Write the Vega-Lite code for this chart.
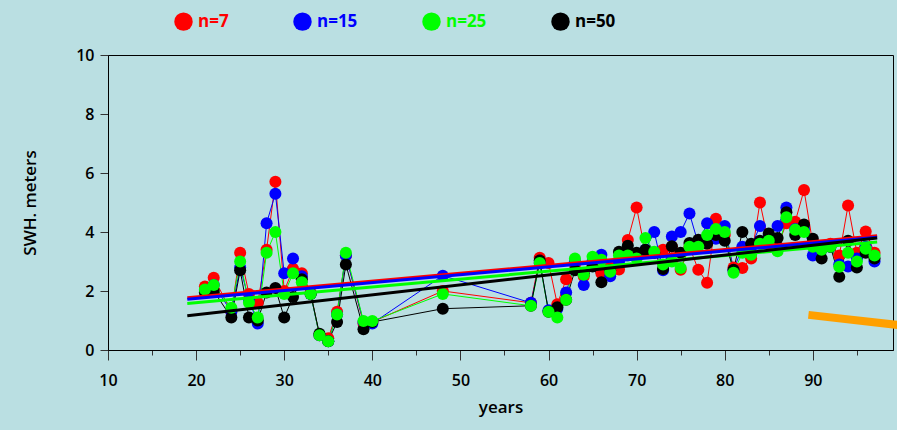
{
  "$schema": "https://vega.github.io/schema/vega-lite/v6.json",
  "width": 785,
  "height": 295,
  "autosize": "none",
  "padding": {"left": 108, "top": 55, "right": 4, "bottom": 80},
  "background": "#badfe2",
  "config": {
    "view": {"stroke": "#000000", "strokeWidth": 1},
    "font": "Open Sans",
    "axis": {"grid": false, "domainColor": "#000000", "tickColor": "#333333", "labelColor": "#000000", "titleColor": "#000000", "labelFont": "Open Sans", "titleFont": "Open Sans", "labelFontSize": 16, "labelFontWeight": 600, "titleFontSize": 17, "titleFontWeight": 600, "labelFlush": false}
  },
  "datasets": {
    "obs": [
      {"year": 21, "n=7": 2.15, "n=15": 2.0, "n=25": 2.05, "n=50": 1.95},
      {"year": 22, "n=7": 2.45, "n=15": 2.2, "n=25": 2.2, "n=50": 2.0},
      {"year": 24, "n=7": 1.3, "n=15": 1.3, "n=25": 1.43, "n=50": 1.1},
      {"year": 25, "n=7": 3.3, "n=15": 2.8, "n=25": 3.0, "n=50": 2.7},
      {"year": 26, "n=7": 1.9, "n=15": 1.7, "n=25": 1.6, "n=50": 1.1},
      {"year": 27, "n=7": 1.6, "n=15": 0.9, "n=25": 1.1, "n=50": 1.0},
      {"year": 28, "n=7": 3.4, "n=15": 4.3, "n=25": 3.3, "n=50": 1.95},
      {"year": 29, "n=7": 5.7, "n=15": 5.3, "n=25": 4.0, "n=50": 2.1},
      {"year": 30, "n=7": 2.0, "n=15": 2.6, "n=25": 1.9, "n=50": 1.1},
      {"year": 31, "n=7": 2.75, "n=15": 3.1, "n=25": 2.6, "n=50": 1.8},
      {"year": 32, "n=7": 2.6, "n=15": 2.5, "n=25": 2.3, "n=50": 2.4},
      {"year": 33, "n=7": 1.95, "n=15": 1.9, "n=25": 1.9, "n=50": 1.9},
      {"year": 34, "n=7": 0.5, "n=15": 0.5, "n=25": 0.5, "n=50": 0.55},
      {"year": 35, "n=7": 0.4, "n=15": 0.3, "n=25": 0.3, "n=50": 0.3},
      {"year": 36, "n=7": 1.3, "n=15": 1.2, "n=25": 1.2, "n=50": 0.95},
      {"year": 37, "n=7": 3.2, "n=15": 3.2, "n=25": 3.3, "n=50": 2.9},
      {"year": 39, "n=7": 0.9, "n=15": 0.95, "n=25": 0.98, "n=50": 0.7},
      {"year": 40, "n=7": 0.95, "n=15": 0.9, "n=25": 0.98, "n=50": 0.95},
      {"year": 48, "n=7": 2.0, "n=15": 2.52, "n=25": 1.9, "n=50": 1.4},
      {"year": 58, "n=7": 1.6, "n=15": 1.6, "n=25": 1.5, "n=50": 1.5},
      {"year": 59, "n=7": 3.13, "n=15": 2.95, "n=25": 2.95, "n=50": 3.03},
      {"year": 60, "n=7": 2.95, "n=15": 1.35, "n=25": 1.3, "n=50": 1.3},
      {"year": 61, "n=7": 1.55, "n=15": 1.4, "n=25": 1.1, "n=50": 1.45},
      {"year": 62, "n=7": 2.4, "n=15": 1.95, "n=25": 1.7, "n=50": 1.7},
      {"year": 63, "n=7": 2.9, "n=15": 3.0, "n=25": 3.1, "n=50": 2.7},
      {"year": 64, "n=7": 2.5, "n=15": 2.2, "n=25": 2.55, "n=50": 2.6},
      {"year": 65, "n=7": 2.9, "n=15": 3.0, "n=25": 3.16, "n=50": 2.83},
      {"year": 66, "n=7": 2.6, "n=15": 3.23, "n=25": 3.06, "n=50": 2.3},
      {"year": 67, "n=7": 2.8, "n=15": 2.5, "n=25": 2.65, "n=50": 2.7},
      {"year": 68, "n=7": 2.73, "n=15": 3.0, "n=25": 3.2, "n=50": 3.33},
      {"year": 69, "n=7": 3.73, "n=15": 3.3, "n=25": 3.2, "n=50": 3.53},
      {"year": 70, "n=7": 4.83, "n=15": 3.2, "n=25": 3.1, "n=50": 3.3},
      {"year": 71, "n=7": 3.3, "n=15": 3.4, "n=25": 3.8, "n=50": 3.4},
      {"year": 72, "n=7": 3.3, "n=15": 4.0, "n=25": 3.33, "n=50": 3.3},
      {"year": 73, "n=7": 3.4, "n=15": 2.7, "n=25": 2.9, "n=50": 2.75},
      {"year": 74, "n=7": 3.5, "n=15": 3.85, "n=25": 3.0, "n=50": 3.52},
      {"year": 75, "n=7": 2.72, "n=15": 4.0, "n=25": 2.78, "n=50": 3.3},
      {"year": 76, "n=7": 3.5, "n=15": 4.63, "n=25": 3.5, "n=50": 3.63},
      {"year": 77, "n=7": 2.72, "n=15": 3.6, "n=25": 3.5, "n=50": 3.74},
      {"year": 78, "n=7": 2.28, "n=15": 4.3, "n=25": 3.9, "n=50": 3.6},
      {"year": 79, "n=7": 4.45, "n=15": 3.77, "n=25": 4.1, "n=50": 3.9},
      {"year": 80, "n=7": 3.9, "n=15": 4.2, "n=25": 4.0, "n=50": 3.7},
      {"year": 81, "n=7": 2.8, "n=15": 2.7, "n=25": 2.62, "n=50": 2.72},
      {"year": 82, "n=7": 2.78, "n=15": 3.5, "n=25": 3.3, "n=50": 4.0},
      {"year": 83, "n=7": 3.1, "n=15": 3.5, "n=25": 3.23, "n=50": 3.6},
      {"year": 84, "n=7": 5.0, "n=15": 4.2, "n=25": 3.6, "n=50": 3.7},
      {"year": 85, "n=7": 3.6, "n=15": 3.9, "n=25": 3.7, "n=50": 3.95},
      {"year": 86, "n=7": 3.5, "n=15": 4.2, "n=25": 3.35, "n=50": 3.8},
      {"year": 87, "n=7": 4.3, "n=15": 4.83, "n=25": 4.5, "n=50": 4.67},
      {"year": 88, "n=7": 4.35, "n=15": 4.1, "n=25": 4.08, "n=50": 3.9},
      {"year": 89, "n=7": 5.42, "n=15": 4.1, "n=25": 4.0, "n=50": 4.25},
      {"year": 90, "n=7": 3.6, "n=15": 3.2, "n=25": 3.5, "n=50": 3.77},
      {"year": 91, "n=7": 3.5, "n=15": 3.4, "n=25": 3.4, "n=50": 3.1},
      {"year": 92, "n=7": 3.6, "n=15": 3.5, "n=25": 3.5, "n=50": 3.5},
      {"year": 93, "n=7": 3.2, "n=15": 2.9, "n=25": 2.82, "n=50": 2.48},
      {"year": 94, "n=7": 4.9, "n=15": 2.83, "n=25": 3.3, "n=50": 3.7},
      {"year": 95, "n=7": 3.3, "n=15": 3.1, "n=25": 3.0, "n=50": 2.8},
      {"year": 96, "n=7": 4.02, "n=15": 3.5, "n=25": 3.43, "n=50": 3.3},
      {"year": 97, "n=7": 3.3, "n=15": 3.0, "n=25": 3.2, "n=50": 3.1}
    ],
    "trend": [
      {"series": "n=7", "year": 19, "swh": 1.77},
      {"series": "n=7", "year": 97.3, "swh": 3.87},
      {"series": "n=15", "year": 19, "swh": 1.72},
      {"series": "n=15", "year": 97.3, "swh": 3.82},
      {"series": "n=25", "year": 19, "swh": 1.58},
      {"series": "n=25", "year": 97.3, "swh": 3.66},
      {"series": "n=50", "year": 19, "swh": 1.16},
      {"series": "n=50", "year": 97.3, "swh": 3.8}
    ],
    "orange": [
      {"year": 89.5, "swh": 1.19},
      {"year": 99.6, "swh": 0.85}
    ]
  },
  "layer": [
    {
      "data": {"name": "obs"},
      "transform": [{"fold": ["n=7", "n=15", "n=25", "n=50"], "as": ["series", "swh"]}],
      "mark": {"type": "line", "strokeWidth": 1, "clip": true},
      "encoding": {
        "x": {"field": "year", "type": "quantitative", "scale": {"domain": [10, 99.1], "nice": false, "zero": false},
          "axis": {"orient": "bottom", "title": "years", "values": [10,15,20,25,30,35,40,45,50,55,60,65,70,75,80,85,90,95],
            "labelExpr": "datum.value % 10 === 0 ? datum.label : ''",
            "tickSize": {"condition": {"test": "datum.value % 10 === 0", "value": 10}, "value": 5},
            "labelPadding": 12, "titlePadding": 11}},
        "y": {"field": "swh", "type": "quantitative", "scale": {"domain": [0, 10], "nice": false},
          "axis": {"orient": "left", "title": "SWH. meters", "values": [0,1,2,3,4,5,6,7,8,9,10],
            "labelExpr": "datum.value % 2 === 0 ? datum.label : ''",
            "tickSize": {"condition": {"test": "datum.value % 2 === 0", "value": 8}, "value": 5},
            "labelPadding": 6, "titlePadding": 36}},
        "color": {"field": "series", "type": "nominal",
          "scale": {"domain": ["n=7", "n=15", "n=25", "n=50"], "range": ["#ff0000", "#0000ff", "#00ff00", "#000000"]},
          "legend": {"orient": "none", "legendX": 66, "legendY": -43, "direction": "horizontal", "title": null,
            "symbolType": "circle", "symbolSize": 340, "labelFontSize": 17, "labelFontWeight": "bold", "labelFont": "Open Sans",
            "columnPadding": 64, "labelOffset": 5,
            "encode": {"symbols": {"update": {"fill": {"signal": "scale('color', datum.value)"}, "stroke": {"value": "transparent"}, "strokeWidth": {"value": 0}, "opacity": {"value": 1}}},
                       "labels": {"update": {"fill": {"signal": "scale('color', datum.value)"}}}}}},
        "detail": {"field": "series"}
      }
    },
    {
      "data": {"name": "obs"},
      "mark": {"type": "point", "shape": "circle", "filled": true, "opacity": 1, "size": 145},
      "encoding": {
        "x": {"field": "year", "type": "quantitative"},
        "y": {"field": "n=7", "type": "quantitative", "title": "SWH. meters"},
        "color": {"datum": "n=7", "type": "nominal"}
      }
    },
    {
      "data": {"name": "obs"},
      "mark": {"type": "point", "shape": "circle", "filled": true, "opacity": 1, "size": 145},
      "encoding": {
        "x": {"field": "year", "type": "quantitative"},
        "y": {"field": "n=15", "type": "quantitative", "title": "SWH. meters"},
        "color": {"datum": "n=15", "type": "nominal"}
      }
    },
    {
      "data": {"name": "obs"},
      "mark": {"type": "point", "shape": "circle", "filled": true, "opacity": 1, "size": 145},
      "encoding": {
        "x": {"field": "year", "type": "quantitative"},
        "y": {"field": "n=50", "type": "quantitative", "title": "SWH. meters"},
        "color": {"datum": "n=50", "type": "nominal"}
      }
    },
    {
      "data": {"name": "obs"},
      "mark": {"type": "point", "shape": "circle", "filled": true, "opacity": 1, "size": 145},
      "encoding": {
        "x": {"field": "year", "type": "quantitative"},
        "y": {"field": "n=25", "type": "quantitative", "title": "SWH. meters"},
        "color": {"datum": "n=25", "type": "nominal"}
      }
    },
    {
      "data": {"name": "trend"},
      "mark": {"type": "line", "strokeWidth": 3},
      "encoding": {
        "x": {"field": "year", "type": "quantitative"},
        "y": {"field": "swh", "type": "quantitative", "title": "SWH. meters"},
        "color": {"field": "series", "type": "nominal"}
      }
    },
    {
      "data": {"name": "orange"},
      "mark": {"type": "line", "strokeWidth": 8, "color": "#ffa000", "strokeCap": "butt"},
      "encoding": {
        "x": {"field": "year", "type": "quantitative"},
        "y": {"field": "swh", "type": "quantitative", "title": "SWH. meters"}
      }
    }
  ]
}
